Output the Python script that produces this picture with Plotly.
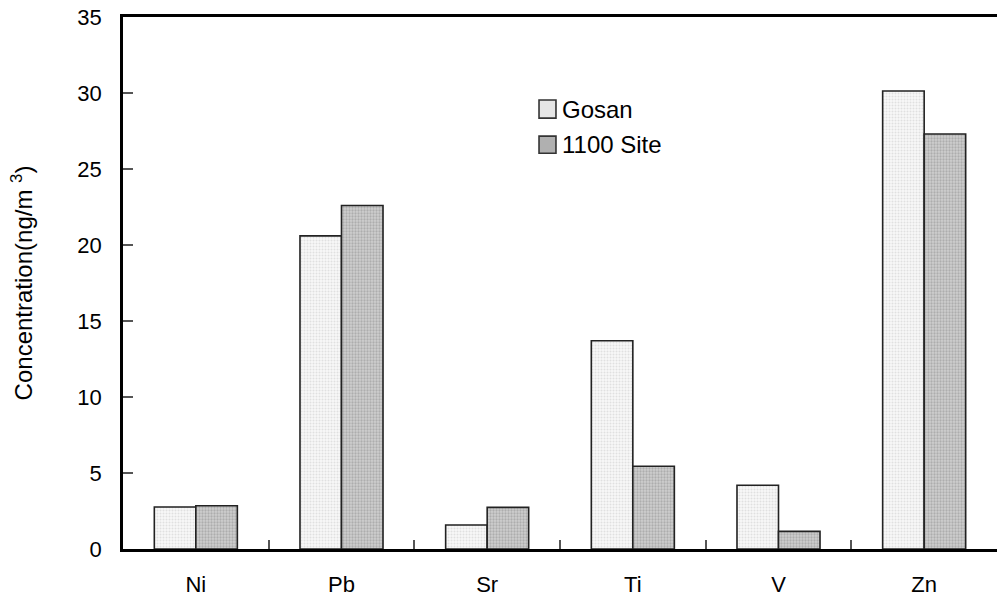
import plotly.graph_objects as go

# Metal concentrations at two sampling sites (ng/m3)
elements = ["Ni", "Pb", "Sr", "Ti", "V", "Zn"]
gosan = [2.76, 20.6, 1.58, 13.7, 4.19, 30.13]
site_1100 = [2.85, 22.6, 2.74, 5.44, 1.16, 27.3]
y_ticks = [0, 5, 10, 15, 20, 25, 30, 35]

FONT = "Liberation Sans, Arial, sans-serif"

series = [
    dict(name="Gosan", values=gosan, base="#f2f2f2", swatch="#e6e6e6",
         pattern=dict(shape=".", fgcolor="#c8c8c8", bgcolor="#f8f8f8", size=3, solidity=0.35)),
    dict(name="1100 Site", values=site_1100, base="#b4b4b4", swatch="#b0b0b0",
         pattern=dict(shape=".", fgcolor="#8c8c8c", bgcolor="#cfcfcf", size=3, solidity=0.45)),
]

fig = go.Figure()
for s in series:
    fig.add_trace(go.Bar(
        name=s["name"], x=elements, y=s["values"], showlegend=False,
        marker=dict(color=s["base"], line=dict(color="#222222", width=1.6),
                    pattern=s["pattern"]),
    ))

# Legend: small swatches with labels inside the plot area
legend_x0, legend_x1, text_x = 0.476, 0.4954, 0.500
legend_rows = [(0.844, 0.810, 0.827), (0.776, 0.744, 0.760)]
for s, (ytop, ybot, ytext) in zip(series, legend_rows):
    fig.add_shape(type="rect", xref="paper", yref="paper",
                  x0=legend_x0, x1=legend_x1, y0=ybot, y1=ytop,
                  fillcolor=s["swatch"], line=dict(color="#333333", width=1.6))
    fig.add_annotation(xref="paper", yref="paper", x=text_x, y=ytext,
                       xanchor="left", yanchor="middle", showarrow=False,
                       text=s["name"], font=dict(family=FONT, size=24, color="black"))

fig.update_layout(
    width=997, height=602,
    margin=dict(l=123, r=0, t=17, b=53),
    paper_bgcolor="white", plot_bgcolor="white",
    barmode="group", bargap=0.43, bargroupgap=0,
    font=dict(family=FONT, size=22, color="black"),
    showlegend=False,
    xaxis=dict(
        type="category", showline=True, linecolor="black", linewidth=2.5,
        mirror=True, ticks="inside", tickson="boundaries", ticklen=9,
        tickcolor="#555555", tickwidth=1.5, showgrid=False,
        tickfont=dict(family=FONT, size=22, color="black"),
        ticklabelstandoff=14,
    ),
    yaxis=dict(
        range=[0, 35], tickvals=y_ticks, showline=True, linecolor="black",
        linewidth=2.5, ticks="inside", ticklen=10, tickcolor="#555555",
        tickwidth=1.5, showgrid=False, zeroline=False,
        tickfont=dict(family=FONT, size=22, color="black"),
        ticklabelstandoff=14,
        title=dict(text="Concentration(ng/m <sup>3</sup>)",
                   font=dict(family=FONT, size=24, color="black"), standoff=38),
    ),
)

fig.write_html("out.html")
